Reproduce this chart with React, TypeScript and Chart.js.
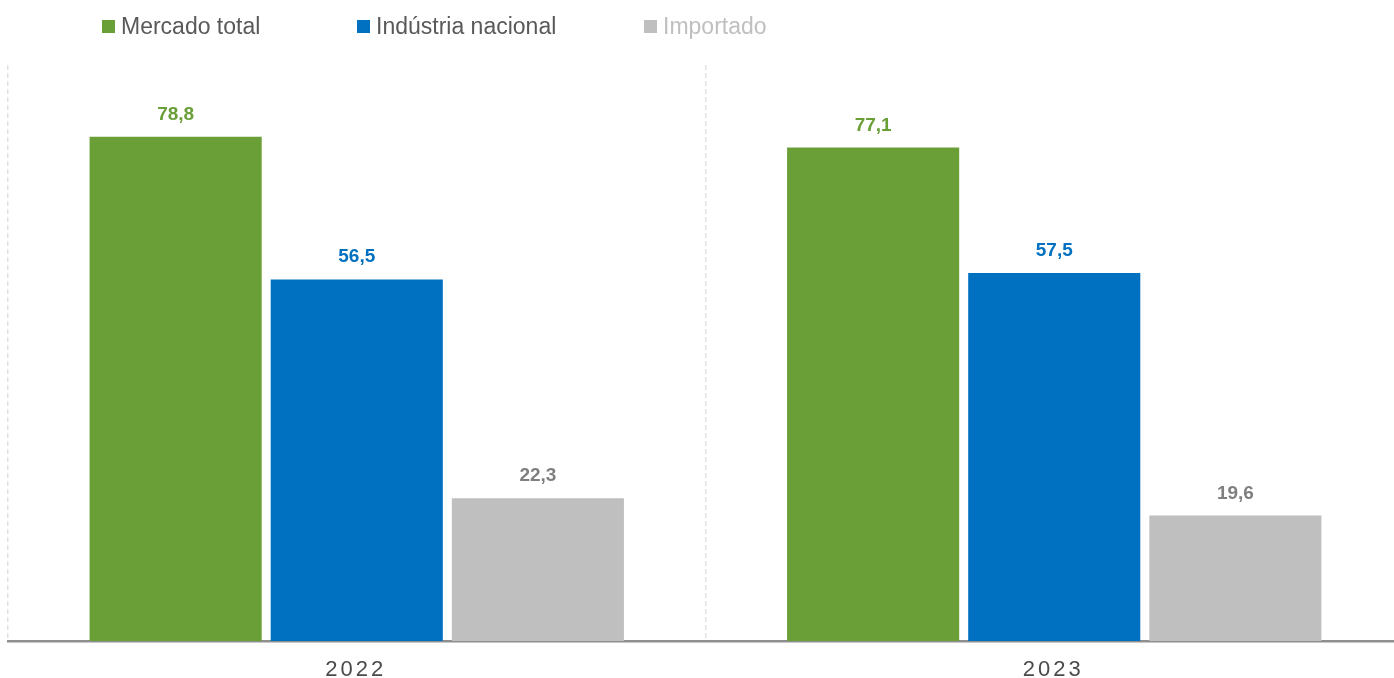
import React, { useEffect, useRef } from "react";
import { Chart, registerables } from "chart.js";

Chart.register(...registerables);

const categories = ["2022", "2023"];
const seriesNames = ["Mercado total", "Indústria nacional", "Importado"];
const mercadoTotal = [78.8, 77.1];
const industriaNacional = [56.5, 57.5];
const importado = [22.3, 19.6];

const barColors = ["#6a9f38", "#0070c0", "#bfbfbf"];
const labelColors = ["#6a9f38", "#0070c0", "#7f7f7f"];
const legendTextColors = ["#595959", "#595959", "#bfbfbf"];
const legendBoxX = [102, 357, 644];

const FONT = "'Liberation Sans', Arial, Helvetica, sans-serif";

const fmt = (v: number) => v.toFixed(1).replace(".", ",");

const customPlugin = {
  id: "customDraw",
  afterDatasetsDraw(chart: any) {
    const ctx = chart.ctx;
    ctx.save();
    ctx.font = `bold 19px ${FONT}`;
    ctx.textAlign = "center";
    ctx.textBaseline = "alphabetic";
    chart.data.datasets.forEach((ds: any, di: number) => {
      const meta = chart.getDatasetMeta(di);
      meta.data.forEach((bar: any, i: number) => {
        ctx.fillStyle = labelColors[di];
        ctx.fillText(fmt(ds.data[i]), bar.x, bar.y - 17);
      });
    });
    ctx.restore();
  },
  afterDraw(chart: any) {
    const ctx = chart.ctx;
    // x category labels
    ctx.save();
    const xs = chart.scales.x;
    ctx.font = `22px ${FONT}`;
    ctx.fillStyle = "#4a4a4a";
    ctx.textAlign = "center";
    ctx.textBaseline = "alphabetic";
    try {
      (ctx as any).letterSpacing = "3px";
    } catch (e) {}
    categories.forEach((c, i) => {
      ctx.fillText(c, xs.getPixelForValue(i) - 1, 676);
    });
    try {
      (ctx as any).letterSpacing = "0px";
    } catch (e) {}
    ctx.restore();

    // legend
    ctx.save();
    ctx.font = `23px ${FONT}`;
    ctx.textAlign = "left";
    ctx.textBaseline = "alphabetic";
    seriesNames.forEach((name, i) => {
      ctx.fillStyle = barColors[i];
      ctx.fillRect(legendBoxX[i], 20, 13, 13);
      ctx.fillStyle = legendTextColors[i];
      ctx.fillText(name, legendBoxX[i] + 19, 34);
    });
    ctx.restore();
  },
};

export default function App() {
  const ref = useRef<HTMLCanvasElement>(null);
  useEffect(() => {
    if (!ref.current) return;
    const chart = new Chart(ref.current, {
      type: "bar",
      data: {
        labels: categories,
        datasets: [
          { label: seriesNames[0], data: mercadoTotal, backgroundColor: barColors[0] },
          { label: seriesNames[1], data: industriaNacional, backgroundColor: barColors[1] },
          { label: seriesNames[2], data: importado, backgroundColor: barColors[2] },
        ],
      },
      options: {
        responsive: false,
        animation: false,
        layout: { padding: { top: 65, bottom: 37, left: 8, right: 0 } },
        datasets: {
          bar: { categoryPercentage: 0.779, barPercentage: 0.9503 },
        },
        plugins: {
          legend: { display: false },
          tooltip: { enabled: false },
        },
        scales: {
          x: {
            grid: {
              display: true,
              offset: true,
              drawTicks: false,
              color: "#e2e2e2",
              lineWidth: 1.5,
            },
            border: { display: true, color: "#8f8f8f", width: 2.5, dash: [5, 3] },
            ticks: { display: false },
          },
          y: {
            display: false,
            min: 0,
            max: 90,
          },
        },
      },
      plugins: [customPlugin],
    });
    return () => chart.destroy();
  }, []);
  return (
    <div style={{ position: "fixed", left: 0, top: 0, width: 1403, height: 678 }}>
      <canvas ref={ref} width={1403} height={678} style={{ width: 1403, height: 678 }} />
    </div>
  );
}
